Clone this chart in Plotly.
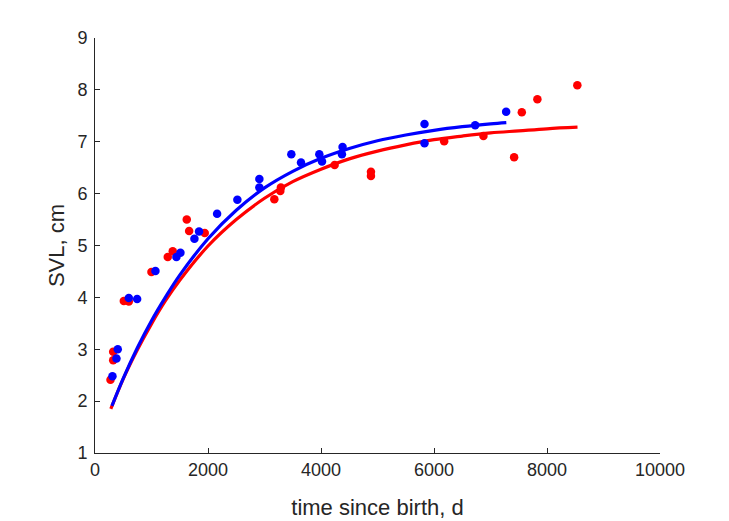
import plotly.graph_objects as go

# ---- data ----
red_t = [274, 322, 322, 510, 598, 999, 1288, 1376, 1624, 1666, 1942, 3174, 3280, 3290,
         4241, 4884, 4884, 6180, 6875, 7418, 7554, 7830, 8537]
red_L = [2.41, 2.79, 2.95, 3.93, 3.92, 4.49, 4.78, 4.89, 5.50, 5.28, 5.24, 5.89, 6.05, 6.12,
         6.55, 6.42, 6.34, 7.01, 7.11, 6.70, 7.57, 7.82, 8.09]

blue_t = [309, 380, 403, 598, 746, 1070, 1441, 1512, 1760, 1842, 2161, 2520, 2909, 2909,
          3475, 3646, 3970, 4018, 4371, 4382, 5832, 5832, 6729, 7277]
blue_L = [2.48, 2.82, 3.00, 3.99, 3.97, 4.51, 4.78, 4.86, 5.13, 5.27, 5.61, 5.88, 6.28, 6.12,
          6.76, 6.60, 6.76, 6.62, 6.76, 6.90, 7.34, 6.97, 7.32, 7.58]

red_curve_t = [280, 500, 750, 1000, 1250, 1500, 2000, 2500, 3000, 3500, 4000, 4500, 5000,
               5500, 6000, 6500, 7000, 7500, 8000, 8540]
red_curve_L = [1.85, 2.43, 2.99, 3.49, 3.94, 4.33, 4.99, 5.50, 5.91, 6.23, 6.47, 6.67, 6.82,
               6.94, 7.04, 7.11, 7.17, 7.21, 7.25, 7.28]

blue_curve_t = [300, 500, 750, 1000, 1250, 1500, 2000, 2500, 3000, 3500, 4000, 4500, 5000,
                5500, 6000, 6500, 7000, 7280]
blue_curve_L = [1.91, 2.44, 3.03, 3.55, 4.01, 4.43, 5.13, 5.68, 6.11, 6.43, 6.68, 6.87, 7.02,
                7.13, 7.22, 7.29, 7.345, 7.37]

x_ticks = [0, 2000, 4000, 6000, 8000, 10000]
y_ticks = [1, 2, 3, 4, 5, 6, 7, 8, 9]

RED = "#FF0000"
BLUE = "#0000FF"
AXC = "#262626"
FONT = "Liberation Sans, Arial, Helvetica, sans-serif"

fig = go.Figure()
fig.add_trace(go.Scatter(x=red_t, y=red_L, mode="markers",
                         marker=dict(color=RED, size=8.5), showlegend=False))
fig.add_trace(go.Scatter(x=red_curve_t, y=red_curve_L, mode="lines",
                         line=dict(color=RED, width=3.2, shape="spline"), showlegend=False))
fig.add_trace(go.Scatter(x=blue_t, y=blue_L, mode="markers",
                         marker=dict(color=BLUE, size=8.5), showlegend=False))
fig.add_trace(go.Scatter(x=blue_curve_t, y=blue_curve_L, mode="lines",
                         line=dict(color=BLUE, width=3.2, shape="spline"), showlegend=False))

axis_common = dict(showgrid=False, zeroline=False, showline=True, linecolor=AXC,
                   linewidth=1, ticks="inside", ticklen=5, tickcolor=AXC, tickwidth=1,
                   tickfont=dict(family=FONT, size=18, color=AXC), mirror=False,
                   automargin=False)

fig.update_layout(
    width=729, height=521, autosize=False,
    margin=dict(l=94.5, r=69, t=38, b=68),
    paper_bgcolor="white", plot_bgcolor="white",
    xaxis=dict(range=[0, 10000], tickvals=x_ticks, ticktext=[str(v) for v in x_ticks],
               title=dict(text="time since birth, d", font=dict(family=FONT, size=22, color=AXC),
                          standoff=21),
               **axis_common),
    yaxis=dict(range=[1, 9], tickvals=y_ticks, ticktext=[str(v) for v in y_ticks],
               ticklabelstandoff=3,
               title=dict(text="SVL, cm", font=dict(family=FONT, size=22, color=AXC),
                          standoff=6),
               **axis_common),
)

fig.write_html("out.html")
